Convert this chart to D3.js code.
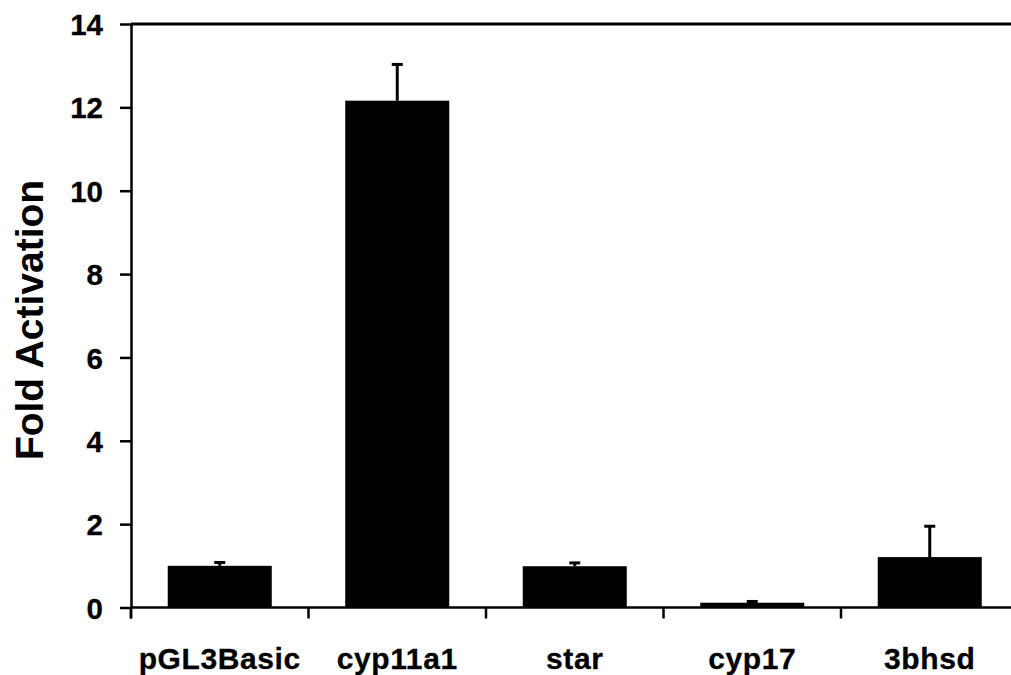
<!DOCTYPE html>
<html>
<head>
<meta charset="utf-8">
<script src="https://cdn.jsdelivr.net/npm/d3@7"></script>
<style>
  html, body { margin: 0; padding: 0; background: #fff; }
  svg { display: block; }
  text { font-family: Arial, 'Liberation Sans', sans-serif; font-weight: bold; fill: #000; }
</style>
</head>
<body>
<div id="chart"></div>
<script>
// chart data
const categories = ['pGL3Basic', 'cyp11a1', 'star', 'cyp17', '3bhsd'];
const foldActivation = [1.0, 12.16, 0.99, 0.115, 1.21];
const errorUp = [0.08, 0.87, 0.08, 0.03, 0.74];
const yTicks = [0, 2, 4, 6, 8, 10, 12, 14];

const width = 1011;
const height = 675;
const plotLeft = 131, plotTop = 24, plotBottom = 607.5;
const step = 177.5;

const svg = d3.select('#chart')
  .append('svg')
  .attr('width', width)
  .attr('height', height);

const x = d3.scaleBand()
  .domain(categories)
  .range([plotLeft, plotLeft + step * categories.length])
  .paddingInner(0.414)
  .paddingOuter(0.207);

const y = d3.scaleLinear()
  .domain([0, 14])
  .range([plotBottom, plotTop]);

const data = categories.map((c, i) => ({ name: c, value: foldActivation[i], err: errorUp[i] }));

// bars
svg.selectAll('rect.bar')
  .data(data)
  .enter()
  .append('rect')
  .attr('class', 'bar')
  .attr('x', d => x(d.name))
  .attr('width', x.bandwidth())
  .attr('y', d => y(d.value))
  .attr('height', d => y(0) - y(d.value))
  .attr('fill', '#000');

// error bars (upper only)
const eb = svg.selectAll('g.err')
  .data(data)
  .enter()
  .append('g')
  .attr('class', 'err');

eb.append('line')
  .attr('x1', d => x(d.name) + x.bandwidth() / 2)
  .attr('x2', d => x(d.name) + x.bandwidth() / 2)
  .attr('y1', d => y(d.value))
  .attr('y2', d => y(d.value + d.err))
  .attr('stroke', '#000')
  .attr('stroke-width', 3);

eb.append('line')
  .attr('x1', d => x(d.name) + x.bandwidth() / 2 - 5.5)
  .attr('x2', d => x(d.name) + x.bandwidth() / 2 + 5.5)
  .attr('y1', d => y(d.value + d.err))
  .attr('y2', d => y(d.value + d.err))
  .attr('stroke', '#000')
  .attr('stroke-width', 3);

// y axis
const yAxis = svg.append('g')
  .attr('transform', `translate(${plotLeft},0)`)
  .call(d3.axisLeft(y).tickValues(yTicks).tickSize(11).tickSizeOuter(0).tickPadding(17));

yAxis.select('.domain').attr('stroke', '#000').attr('stroke-width', 2.5);
yAxis.selectAll('.tick line').attr('stroke', '#000').attr('stroke-width', 2.5);
yAxis.selectAll('.tick text')
  .attr('font-size', 29.5)
  .attr('dy', '0.36em')
  .attr('stroke', '#000')
  .attr('stroke-width', 0.3)
  .style('font-family', 'Arial, "Liberation Sans", sans-serif')
  .style('font-weight', 'bold')
  .attr('fill', '#000');

// y axis line extends down to category tick length
svg.append('line')
  .attr('x1', plotLeft).attr('x2', plotLeft)
  .attr('y1', y(0)).attr('y2', y(0) + 11)
  .attr('stroke', '#000').attr('stroke-width', 2.5);

// x axis line
svg.append('line')
  .attr('x1', plotLeft).attr('x2', width + 20)
  .attr('y1', y(0)).attr('y2', y(0))
  .attr('stroke', '#000').attr('stroke-width', 2.5);

// top frame line
svg.append('line')
  .attr('x1', plotLeft).attr('x2', width + 20)
  .attr('y1', y(14)).attr('y2', y(14))
  .attr('stroke', '#000').attr('stroke-width', 3);

// category separator ticks
const gap = (x.step() - x.bandwidth()) / 2;
svg.selectAll('line.cat-tick')
  .data(categories)
  .enter()
  .append('line')
  .attr('class', 'cat-tick')
  .attr('x1', d => x(d) - gap)
  .attr('x2', d => x(d) - gap)
  .attr('y1', y(0))
  .attr('y2', y(0) + 11)
  .attr('stroke', '#000')
  .attr('stroke-width', 2.5);

// category labels
svg.selectAll('text.cat')
  .data(categories)
  .enter()
  .append('text')
  .attr('class', 'cat')
  .attr('x', d => x(d) + x.bandwidth() / 2)
  .attr('y', y(0) + 61)
  .attr('text-anchor', 'middle')
  .attr('font-size', 30)
  .attr('letter-spacing', 0.6)
  .attr('stroke', '#000')
  .attr('stroke-width', 0.3)
  .text(d => d);

// y axis title
svg.append('text')
  .attr('transform', `translate(43, ${(178 + 462) / 2}) rotate(-90)`)
  .attr('text-anchor', 'middle')
  .attr('font-size', 39)
  .text('Fold Activation');
</script>
</body>
</html>
